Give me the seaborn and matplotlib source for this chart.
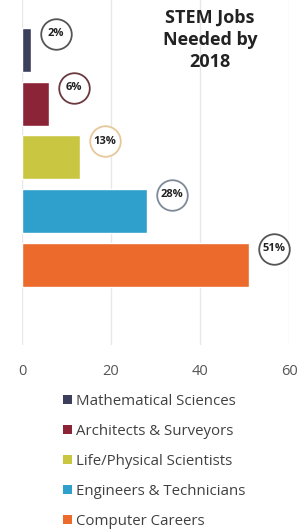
import matplotlib
matplotlib.use("Agg")
import matplotlib.pyplot as plt
import matplotlib.transforms as mtransforms
from matplotlib.patches import Patch
import pandas as pd
import seaborn as sns

categories = ["Mathematical Sciences", "Architects & Surveyors",
              "Life/Physical Scientists", "Engineers & Technicians",
              "Computer Careers"]
values = [2, 6, 13, 28, 51]
labels = ["2%", "6%", "13%", "28%", "51%"]
colors = ["#3b3f5c", "#8c2438", "#c9c642", "#2f9fcb", "#ec6a2c"]
ring_colors = ["#555555", "#6a3a40", "#e8c79a", "#7f8a99", "#555555"]
xticks = [0, 20, 40, 60]


def make_chart():
    sns.set_theme(style="white")
    plt.rcParams["font.family"] = ["Open Sans", "DejaVu Sans"]

    df = pd.DataFrame({"category": categories, "value": values})

    fig = plt.figure(figsize=(3.07, 5.29), dpi=100)
    ax = fig.add_axes([22 / 307, 1 - 345 / 529, 267 / 307, 345 / 529])

    sns.barplot(data=df, x="value", y="category", hue="category",
                palette=colors, width=0.82, saturation=1, legend=False, ax=ax)

    ax.set_xlim(0, 60)
    ax.set_ylim(5.5, -0.93)
    ax.set_xticks(xticks)
    ax.set_xticklabels([str(t) for t in xticks], color="#555555", fontsize=10.5)
    ax.tick_params(axis="x", length=0, pad=14)
    ax.set_yticks([])
    ax.set_xlabel("")
    ax.set_ylabel("")
    ax.grid(axis="x", color="#e8e8e8", lw=1)
    ax.set_axisbelow(True)
    sns.despine(ax=ax, left=True, bottom=True)

    # circled percentage badges
    trans = mtransforms.offset_copy(ax.transData, fig=fig, x=25, y=16, units="dots")
    for i, (v, lab) in enumerate(zip(values, labels)):
        ax.plot(v, i, marker="o", ms=22, mfc="white", mec=ring_colors[i],
                mew=1.3, transform=trans, clip_on=False, zorder=5)
        ax.text(v, i, lab, transform=trans, ha="center", va="center",
                fontsize=8, fontweight="bold", color="#222222", zorder=6)

    fig.text(210 / 307, 1 - 40 / 529, "STEM Jobs\nNeeded by\n2018",
             ha="center", va="center", fontsize=13, fontweight="bold",
             color="#222222", linespacing=1.3)

    handles = [Patch(facecolor=c, edgecolor="none") for c in colors]
    fig.legend(handles, categories, loc="upper left",
               bbox_to_anchor=(63 / 307, 1 - 394 / 529), frameon=False,
               fontsize=10.8, handlelength=0.6, handleheight=0.6,
               handletextpad=0.25, labelspacing=1.0, labelcolor="#404040",
               borderaxespad=0, borderpad=0)

    fig.savefig("out.png", dpi=100)


def main():
    make_chart()


if __name__ == "__main__":
    main()
